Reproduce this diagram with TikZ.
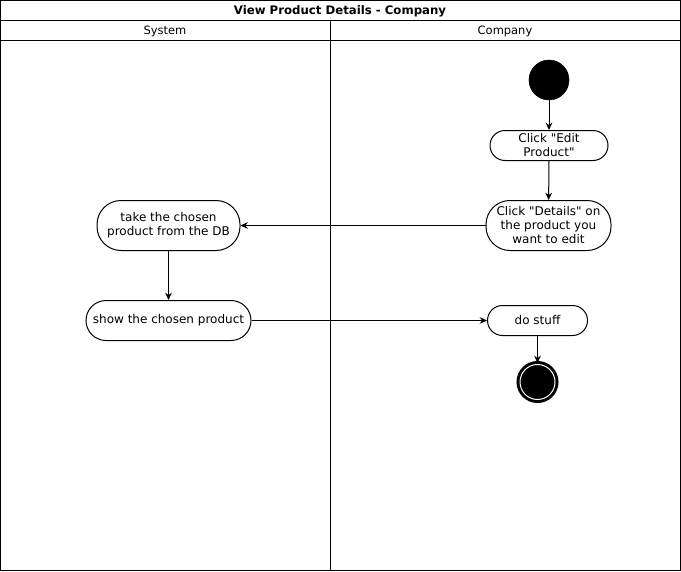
\documentclass[tikz,border=0pt]{standalone}
\usepackage{fontspec}
\setmainfont{DejaVu Sans}[Ligatures=TeXOff]
\usetikzlibrary{arrows.meta}
\begin{document}
\begin{tikzpicture}[x=0.75pt,y=-0.75pt,
  lane/.style={draw=black,line width=0.75pt},
  headtext/.style={font=\fontsize{8.6}{10}\selectfont},
  action/.style={draw=black,line width=0.75pt,fill=white,align=center,
    font=\fontsize{9}{10.5}\selectfont,inner sep=0pt},
  flow/.style={draw=black,line width=0.75pt,-{Stealth[length=5.5pt,width=5pt]}},
  initial/.style={circle,fill=black,draw=black,minimum size=30pt,inner sep=0pt},
  final/.style={circle,fill=black,draw=black,line width=2.25pt,minimum size=26.25pt,inner sep=0pt,
    double=white,double distance=0.75pt}]
\useasboundingbox (0,0) rectangle (681,571);
\fill[white] (0,0) rectangle (681,571);

% pool and lanes
\draw[lane] (0.5,0.5) rectangle (680.5,570.5);
\draw[lane] (0.5,20.5) -- (680.5,20.5);
\draw[lane] (0.5,40.5) -- (680.5,40.5);
\draw[lane] (330.5,20.5) -- (330.5,570.5);
\node[font=\fontsize{8.8}{10}\selectfont\bfseries] (title) at (340,11) {View Product Details - Company};
\node[headtext] (sysh) at (165,31) {System};
\node[headtext] (comh) at (505,31) {Company};

% activity nodes
\node[initial] (start) at (549,80) {};
\node[action,minimum width=88.5pt,minimum height=22.5pt,rounded corners=11.25pt] (edit) at (549,145.5)
  {Click "Edit\\Product"};
\node[action,minimum width=93.75pt,minimum height=37.5pt,rounded corners=18pt] (details) at (548.5,225.5)
  {Click "Details" on\\the product you\\want to edit};
\node[action,minimum width=107.25pt,minimum height=37.5pt,rounded corners=18pt] (take) at (168.5,225.5)
  {take the chosen\\product from the DB};
\node[action,minimum width=123.75pt,minimum height=30pt,rounded corners=15pt] (show) at (168.5,320.5)
  {show the chosen product};
\node[action,minimum width=75pt,minimum height=22.5pt,rounded corners=11.25pt] (stuff) at (537.5,320.5)
  {do stuff};
\node[final] (end) at (537.5,382) {};

% control flow
\draw[flow] (start) -- (edit);
\draw[flow] (edit) -- (details);
\draw[flow] (details) -- (take);
\draw[flow] (take) -- (show);
\draw[flow] (show) -- (stuff);
\draw[flow] (stuff) -- (end);
\end{tikzpicture}
\end{document}
